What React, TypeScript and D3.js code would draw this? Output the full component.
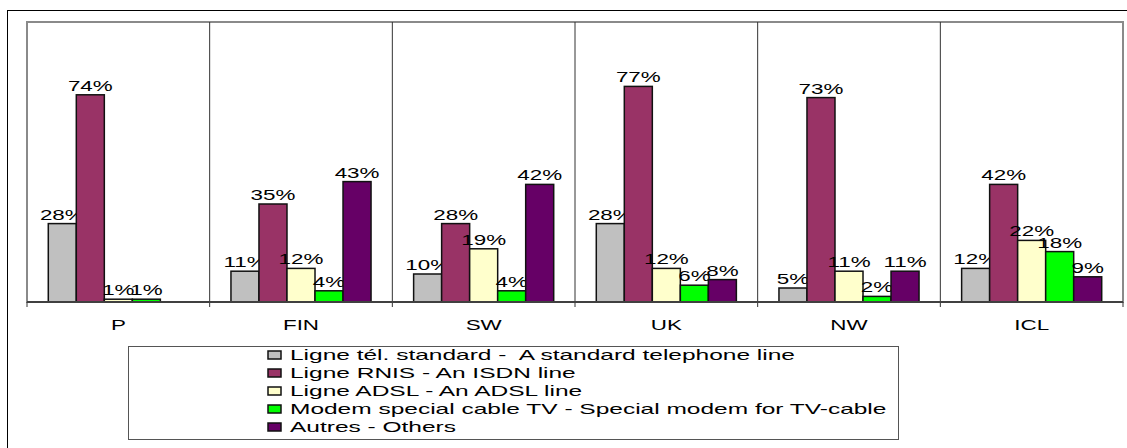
import * as d3 from "d3";

const categories = ["P", "FIN", "SW", "UK", "NW", "ICL"];
const seriesNames = [
  "Ligne tél. standard -  A standard telephone line",
  "Ligne RNIS - An ISDN line",
  "Ligne ADSL - An ADSL line",
  "Modem special cable TV - Special modem for TV-cable",
  "Autres - Others",
];
const seriesColors = ["#C0C0C0", "#993366", "#FFFFCC", "#00FF00", "#660066"];

// one array per series, in category order (null = no bar)
const standardLine = [28, 11, 10, 28, 5, 12];
const isdnLine = [74, 35, 28, 77, 73, 42];
const adslLine = [1, 12, 19, 12, 11, 22];
const cableModem = [1, 4, 4, 6, 2, 18];
const others: (number | null)[] = [null, 43, 42, 8, 11, 9];
const seriesValues = [standardLine, isdnLine, adslLine, cableModem, others];

const W = 1127;
const H = 448;
const plot = { left: 27, right: 1123, top: 22, bottom: 302 };
const font = "'Liberation Sans', Arial, sans-serif";

export default function App() {
  const x0 = d3
    .scaleBand<string>()
    .domain(categories)
    .range([plot.left, plot.right]);
  const x1 = d3
    .scaleBand<number>()
    .domain(d3.range(seriesNames.length))
    .range([0, x0.bandwidth()])
    .paddingInner(0)
    .paddingOuter(0.76);
  const y = d3.scaleLinear().domain([0, 100]).range([plot.bottom, plot.top]);

  const dividers = categories.slice(1).map((c) => x0(c)!);

  return (
    <svg
      width={W}
      height={H}
      style={{ position: "absolute", left: 0, top: 0, background: "#fff" }}
    >
      <rect x={7.5} y={10.5} width={1140} height={460} fill="none" stroke="#000" strokeWidth={1} />
      <rect
        x={plot.left}
        y={plot.top}
        width={plot.right - plot.left}
        height={plot.bottom - plot.top}
        fill="#fff"
        stroke="#8a8a8a"
        strokeWidth={2}
      />
      {dividers.map((dx, i) => (
        <line key={i} x1={dx} x2={dx} y1={plot.top} y2={plot.bottom + 5} stroke="#333" strokeWidth={1} />
      ))}
      {[plot.left, plot.right].map((dx, i) => (
        <line key={"e" + i} x1={dx} x2={dx} y1={plot.bottom} y2={plot.bottom + 5} stroke="#333" strokeWidth={1} />
      ))}

      {categories.map((c, ci) => (
        <g key={c} transform={`translate(${x0(c)},0)`}>
          {seriesValues.map((vals, si) => {
            const v = vals[ci];
            if (v == null) return null;
            const bx = x1(si)!;
            const by = y(v);
            return (
              <g key={si}>
                <rect
                  x={bx}
                  y={by}
                  width={x1.bandwidth()}
                  height={plot.bottom - by}
                  fill={seriesColors[si]}
                  stroke="#111"
                  strokeWidth={1.5}
                />
                <text
                  transform={`translate(${bx + x1.bandwidth() / 2},${by - 4}) scale(1.6,1)`}
                  textAnchor="middle"
                  fontFamily={font}
                  fontSize={14}
                  fill="#000"
                >
                  {v}%
                </text>
              </g>
            );
          })}
          <text
            transform={`translate(${x0.bandwidth() / 2},${plot.bottom + 28}) scale(1.6,1)`}
            textAnchor="middle"
            fontFamily={font}
            fontSize={14}
            fill="#000"
          >
            {c}
          </text>
        </g>
      ))}

      <line x1={plot.left} x2={plot.right} y1={plot.bottom} y2={plot.bottom} stroke="#404040" strokeWidth={2} />

      <g>
        <rect x={128.5} y={346.5} width={770} height={93} fill="#fff" stroke="#555" strokeWidth={1} />
        {seriesNames.map((name, i) => {
          const ry = 355 + i * 18;
          return (
            <g key={name}>
              <rect x={268} y={ry - 4} width={13} height={8} fill={seriesColors[i]} stroke="#111" strokeWidth={1.5} />
              <text
                transform={`translate(290,${ry + 5}) scale(1.75,1)`}
                fontFamily={font}
                fontSize={14}
                fill="#000"
                style={{ whiteSpace: "pre" }}
              >
                {name}
              </text>
            </g>
          );
        })}
      </g>
    </svg>
  );
}
